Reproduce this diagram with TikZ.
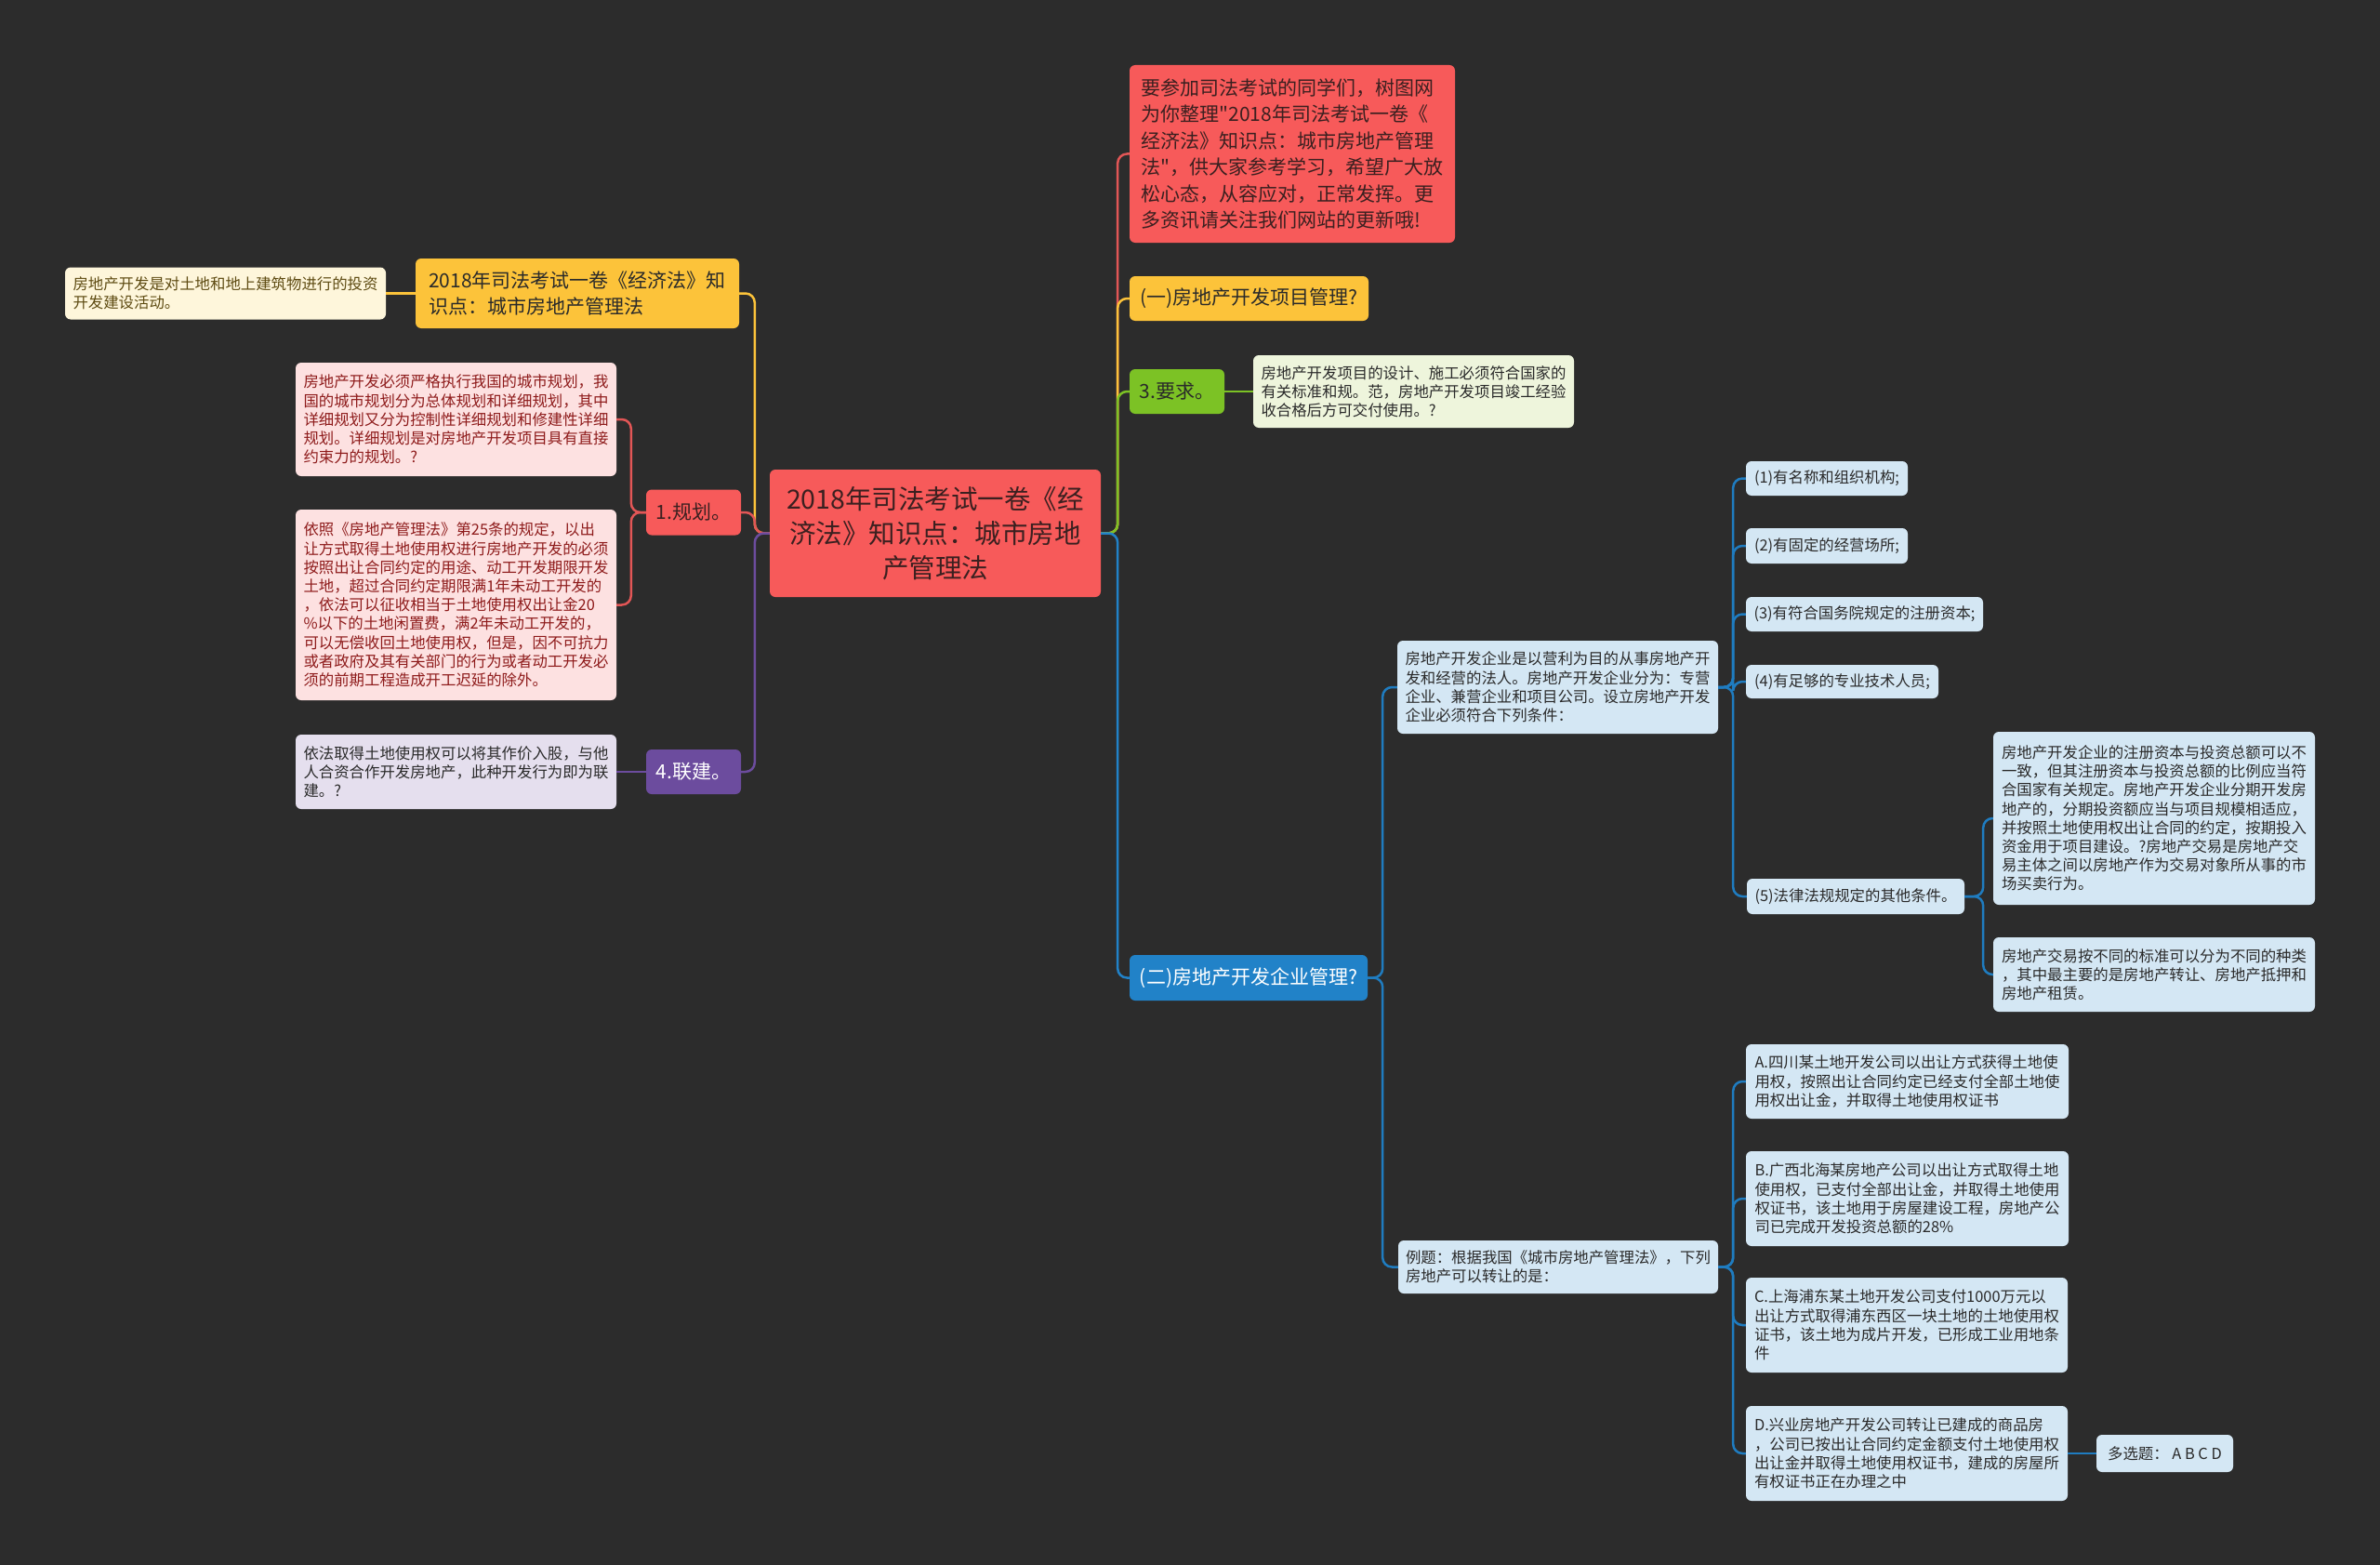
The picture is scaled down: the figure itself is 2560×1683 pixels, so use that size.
\documentclass[tikz,border=0pt]{standalone}
\usepackage{fontspec}
\newfontfamily\cjk{Noto Sans CJK SC}
\definecolor{bg}{HTML}{2C2C2C}
\definecolor{coral}{HTML}{F75A5A}
\definecolor{roottxt}{HTML}{3B2020}
\definecolor{gold}{HTML}{FCC33A}
\definecolor{lime}{HTML}{7CC225}
\definecolor{grape}{HTML}{6C4C9E}
\definecolor{sky}{HTML}{2182C8}
\definecolor{pinkbg}{HTML}{FDE1E1}
\definecolor{pinktxt}{HTML}{8E1B1B}
\definecolor{creambg}{HTML}{FEF6DB}
\definecolor{creamtxt}{HTML}{5E4B12}
\definecolor{limebg}{HTML}{EEF5DC}
\definecolor{grapebg}{HTML}{E5DFEE}
\definecolor{skybg}{HTML}{D4E7F4}
\definecolor{darktxt}{HTML}{2A2A2A}
\definecolor{redline}{HTML}{E25656}
\definecolor{skyline}{HTML}{1F7CC0}

\begin{document}
\begin{tikzpicture}[x=1pt,y=-1pt,
  every node/.style={inner sep=0pt, rounded corners=6pt},
  rootbox/.style={fill=coral, text=roottxt, align=center, font=\cjk\fontsize{28.5}{37}\selectfont},
  topic/.style={align=left, font=\cjk\fontsize{21}{28.4}\selectfont},
  leaf/.style={align=left, text=darktxt, font=\cjk\fontsize{16.4}{20.2}\selectfont},
  link/.style={line width=2.5pt, rounded corners=10pt}]
%================================================================
%	Background
\fill[bg] (0,0) rectangle (2560,1683);
\useasboundingbox (0,0) rectangle (2560,1683);
%================================================================
%	Nodes
\node[rootbox, minimum width=356, minimum height=137] (root) at (1006,573.5) {2018年司法考试一卷《经\\济法》知识点：城市房地\\产管理法};
%----------------------------------------------------------------
\node[topic, fill=coral, text=roottxt, minimum width=350, minimum height=191] (intro) at (1390,165.5) {要参加司法考试的同学们，树图网\\为你整理"2018年司法考试一卷《\\经济法》知识点：城市房地产管理\\法"，供大家参考学习，希望广大放\\松心态，从容应对，正常发挥。更\\多资讯请关注我们网站的更新哦!};
\node[topic, fill=gold, text=darktxt, minimum width=257, minimum height=48] (proj) at (1343.5,321) {(一)房地产开发项目管理?};
\node[topic, fill=lime, text=darktxt, minimum width=102, minimum height=48] (req) at (1266,421) {3.要求。};
\node[leaf, fill=limebg, minimum width=345, minimum height=78] (reqinfo) at (1520.5,421) {房地产开发项目的设计、施工必须符合国家的\\有关标准和规。范，房地产开发项目竣工经验\\收合格后方可交付使用。?};
\node[topic, fill=sky, text=white, minimum width=256, minimum height=49] (firm) at (1343,1051.5) {(二)房地产开发企业管理?};
%----------------------------------------------------------------
\node[topic, fill=gold, text=darktxt, minimum width=348, minimum height=75] (law) at (621,315.5) {2018年司法考试一卷《经济法》知\\识点：城市房地产管理法};
\node[leaf, fill=creambg, text=creamtxt, minimum width=345, minimum height=56] (lawinfo) at (242.5,315.5) {房地产开发是对土地和地上建筑物进行的投资\\开发建设活动。};
\node[topic, fill=coral, text=roottxt, minimum width=102, minimum height=49] (plan) at (746,551) {1.规划。};
\node[leaf, fill=pinkbg, text=pinktxt, minimum width=345, minimum height=122] (plana) at (490.5,451) {房地产开发必须严格执行我国的城市规划，我\\国的城市规划分为总体规划和详细规划，其中\\详细规划又分为控制性详细规划和修建性详细\\规划。详细规划是对房地产开发项目具有直接\\约束力的规划。?};
\node[leaf, fill=pinkbg, text=pinktxt, minimum width=345, minimum height=205] (planb) at (490.5,650.5) {依照《房地产管理法》第25条的规定，以出\\让方式取得土地使用权进行房地产开发的必须\\按照出让合同约定的用途、动工开发期限开发\\土地，超过合同约定期限满1年未动工开发的\\，依法可以征收相当于土地使用权出让金20\\\%以下的土地闲置费，满2年未动工开发的，\\可以无偿收回土地使用权，但是，因不可抗力\\或者政府及其有关部门的行为或者动工开发必\\须的前期工程造成开工迟延的除外。};
\node[topic, fill=grape, text=white, minimum width=102, minimum height=48] (joint) at (746,830) {4.联建。};
\node[leaf, fill=grapebg, minimum width=345, minimum height=80] (jointinfo) at (490.5,830) {依法取得土地使用权可以将其作价入股，与他\\人合资合作开发房地产，此种开发行为即为联\\建。?};
%----------------------------------------------------------------
\node[leaf, fill=skybg, minimum width=345, minimum height=100] (firminfo) at (1675.5,739) {房地产开发企业是以营利为目的从事房地产开\\发和经营的法人。房地产开发企业分为：专营\\企业、兼营企业和项目公司。设立房地产开发\\企业必须符合下列条件：};
\node[leaf, fill=skybg, minimum width=174, minimum height=37] (cond1) at (1965,514.5) {(1)有名称和组织机构;};
\node[leaf, fill=skybg, minimum width=174, minimum height=38] (cond2) at (1965,587) {(2)有固定的经营场所;};
\node[leaf, fill=skybg, minimum width=255, minimum height=37] (cond3) at (2005.5,660.5) {(3)有符合国务院规定的注册资本;};
\node[leaf, fill=skybg, minimum width=207, minimum height=36] (cond4) at (1981.5,733) {(4)有足够的专业技术人员;};
\node[leaf, fill=skybg, minimum width=234, minimum height=38] (cond5) at (1996,964) {(5)法律法规规定的其他条件。};
\node[leaf, fill=skybg, minimum width=346, minimum height=186] (capital) at (2317,880) {房地产开发企业的注册资本与投资总额可以不\\一致，但其注册资本与投资总额的比例应当符\\合国家有关规定。房地产开发企业分期开发房\\地产的，分期投资额应当与项目规模相适应，\\并按照土地使用权出让合同的约定，按期投入\\资金用于项目建设。?房地产交易是房地产交\\易主体之间以房地产作为交易对象所从事的市\\场买卖行为。};
\node[leaf, fill=skybg, minimum width=346, minimum height=80] (trade) at (2317,1048) {房地产交易按不同的标准可以分为不同的种类\\，其中最主要的是房地产转让、房地产抵押和\\房地产租赁。};
%----------------------------------------------------------------
\node[leaf, fill=skybg, minimum width=344, minimum height=57] (quiz) at (1676,1362.5) {例题：根据我国《城市房地产管理法》，下列\\房地产可以转让的是：};
\node[leaf, fill=skybg, minimum width=347, minimum height=80] (optA) at (2051.5,1163) {A.四川某土地开发公司以出让方式获得土地使\\用权，按照出让合同约定已经支付全部土地使\\用权出让金，并取得土地使用权证书};
\node[leaf, fill=skybg, minimum width=347, minimum height=102] (optB) at (2051.5,1289) {B.广西北海某房地产公司以出让方式取得土地\\使用权，已支付全部出让金，并取得土地使用\\权证书，该土地用于房屋建设工程，房地产公\\司已完成开发投资总额的28\%};
\node[leaf, fill=skybg, minimum width=346, minimum height=102] (optC) at (2051,1425) {C.上海浦东某土地开发公司支付1000万元以\\出让方式取得浦东西区一块土地的土地使用权\\证书，该土地为成片开发，已形成工业用地条\\件};
\node[leaf, fill=skybg, minimum width=346, minimum height=102] (optD) at (2051,1563) {D.兴业房地产开发公司转让已建成的商品房\\，公司已按出让合同约定金额支付土地使用权\\出让金并取得土地使用权证书，建成的房屋所\\有权证书正在办理之中};
\node[leaf, fill=skybg, minimum width=147, minimum height=40] (answer) at (2328.5,1563) {多选题：\ A B C D};

%================================================================
%	Lines, right side
\draw[link, redline] (root.east) -- ++(18,0) |- (intro.west);
\draw[link, gold] (root.east) -- ++(18,0) |- (proj.west);
\draw[link, lime] (root.east) -- ++(18,0) |- (req.west);
\draw[link, sky] (root.east) -- ++(18,0) |- (firm.west);
\draw[link, lime] (req.east) -- (reqinfo.west);
%----------------------------------------------------------------
\draw[link, skyline] (firm.east) -- ++(16,0) |- (firminfo.west);
\draw[link, skyline] (firm.east) -- ++(16,0) |- (quiz.west);
\draw[link, skyline] (firminfo.east) -- ++(16,0) |- (cond1.west);
\draw[link, skyline] (firminfo.east) -- ++(16,0) |- (cond2.west);
\draw[link, skyline] (firminfo.east) -- ++(16,0) |- (cond3.west);
\draw[link, skyline] (firminfo.east) -- ++(16,0) |- (cond4.west);
\draw[link, skyline] (firminfo.east) -- ++(16,0) |- (cond5.west);
\draw[link, skyline] (cond5.east) -- ++(20,0) |- (capital.west);
\draw[link, skyline] (cond5.east) -- ++(20,0) |- (trade.west);
%----------------------------------------------------------------
\draw[link, skyline] (quiz.east) -- ++(16,0) |- (optA.west);
\draw[link, skyline] (quiz.east) -- ++(16,0) |- (optB.west);
\draw[link, skyline] (quiz.east) -- ++(16,0) |- (optC.west);
\draw[link, skyline] (quiz.east) -- ++(16,0) |- (optD.west);
\draw[link, skyline] (optD.east) -- (answer.west);

%================================================================
%	Lines, left side
\draw[link, gold] (root.west) -- ++(-16,0) |- (law.east);
\draw[link, redline] (root.west) -- ++(-16,0) |- (plan.east);
\draw[link, grape] (root.west) -- ++(-16,0) |- (joint.east);
\draw[link, gold] (law.west) -- (lawinfo.east);
%----------------------------------------------------------------
\draw[link, redline] (plan.west) -- ++(-16,0) |- (plana.east);
\draw[link, redline] (plan.west) -- ++(-16,0) |- (planb.east);
\draw[link, grape] (joint.west) -- (jointinfo.east);
%================================================================
\end{tikzpicture}
\end{document}
